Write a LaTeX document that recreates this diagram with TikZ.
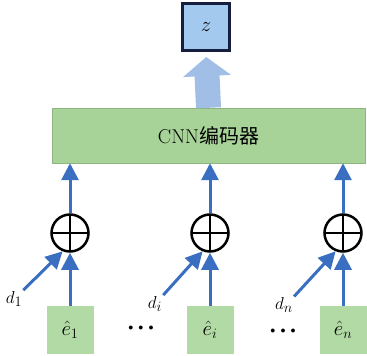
\documentclass[tikz,border=0pt]{standalone}
\usepackage{amsmath,amssymb}
\usepackage{fontspec}
\newfontfamily\cjk{Noto Sans CJK SC}
\usepackage{tikz}
\usetikzlibrary{arrows.meta}
\usepackage{xcolor}
\definecolor{linkblue}{RGB}{58,110,192}
\definecolor{bigblue}{RGB}{160,190,230}
\definecolor{zfill}{RGB}{163,201,239}
\definecolor{zline}{RGB}{22,30,62}
\definecolor{cnngreen}{RGB}{168,211,152}
\definecolor{egreen}{RGB}{178,218,164}

\begin{document}
\begin{tikzpicture}[x=1pt,y=-1pt,>={Triangle[length=17pt,width=17pt]}]
\tikzset{
    zbox/.style={%
        draw=zline, line width=3pt,
        fill=zfill,
        minimum size=47pt, inner sep=0pt,
        font=\fontsize{20}{22}\selectfont
        },
    encbox/.style={%
        draw=cnngreen!85!black, thin,
        fill=cnngreen,
        minimum width=313pt, minimum height=55pt,
        font=\fontsize{20}{22}\selectfont
        },
    ebox/.style={%
        fill=egreen,
        minimum width=47pt, minimum height=48pt, inner sep=0pt,
        font=\fontsize{21}{23}\selectfont
        },
    plus/.style={%
        circle, draw, line width=2.5pt,
        minimum size=37pt, inner sep=0pt,
        path picture={\draw[line width=2pt]
            (path picture bounding box.north) -- (path picture bounding box.south)
            (path picture bounding box.west) -- (path picture bounding box.east);}
        },
    dlabel/.style={inner sep=1pt, font=\fontsize{19}{21}\selectfont},
    link/.style={->, draw=linkblue, line width=3pt},
    bigarrow/.style={-{Triangle[length=19pt,width=47pt]}, draw=bigblue, line width=25pt, shorten >=5pt},
    dots/.style={font=\fontsize{10}{10}\selectfont},
}
\useasboundingbox (0,0) rectangle (367,356);
%%%ENCODER
\node[zbox] (z) at (206,27) { $z$ };
\node[encbox] (cnn) at (208.5,135.5) { CNN{\cjk 编码器} };
%%%SUMS
\node[plus] (p1) at (70,233) {};
\node[plus] (pi) at (210,233) {};
\node[plus] (pn) at (343,233) {};
%%%INPUTS
\node[ebox] (e1) at (70,330) { $\hat{e}_1$ };
\node[ebox] (ei) at (210,330) { $\hat{e}_i$ };
\node[ebox] (en) at (343,330) { $\hat{e}_n$ };
\node[dlabel] (d1) at (14,299) { $d_1$ };
\node[dlabel] (di) at (155,304) { $d_i$ };
\node[dlabel] (dn) at (284,305) { $d_n$ };
\node[dots] (dots1) at (141,328) { $\bullet\hspace{3pt}\bullet\hspace{3pt}\bullet$ };
\node[dots] (dots2) at (283,331) { $\bullet\hspace{3pt}\bullet\hspace{3pt}\bullet$ };
%%%ARROWS
\draw[bigarrow] (cnn.north) -- (z.south);
\draw[link] (p1) -- (p1 |- cnn.south);
\draw[link] (pi) -- (pi |- cnn.south);
\draw[link] (pn) -- (pn |- cnn.south);
%
\draw[link] (e1) -- (p1);
\draw[link] (ei) -- (pi);
\draw[link] (en) -- (pn);
%
\draw[link] (d1.north east) -- (p1.248);
\draw[link] (di.north east) -- (pi.248);
\draw[link] (dn.north east) -- (pn.248);
\end{tikzpicture}
\end{document}
